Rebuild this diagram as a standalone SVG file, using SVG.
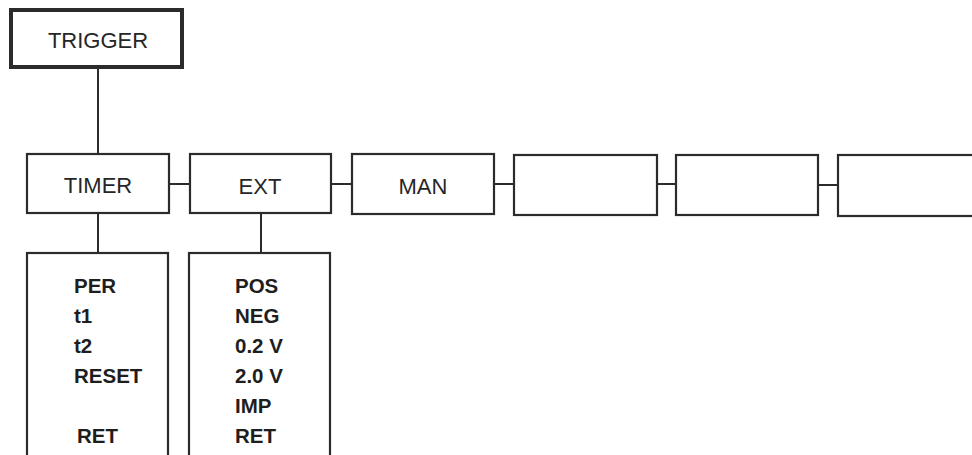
<svg xmlns="http://www.w3.org/2000/svg" width="972" height="455" viewBox="0 0 972 455">
  <style>
    .box { fill: #ffffff; stroke: #2b2b2b; stroke-width: 2.2; }
    .thick { stroke-width: 4; }
    .conn { stroke: #2b2b2b; stroke-width: 2; fill: none; }
    .lbl { font-family: "Liberation Sans", Arial, sans-serif; font-size: 22px; fill: #262626; text-anchor: middle; }
    .item { font-family: "Liberation Sans", Arial, sans-serif; font-size: 20.5px; font-weight: bold; fill: #1e1e1e; }
  </style>
  <rect width="972" height="455" fill="#ffffff"/>

  <g id="connectors">
    <line class="conn" x1="98" y1="67" x2="98" y2="154"/>
    <line class="conn" x1="169" y1="184" x2="190" y2="184"/>
    <line class="conn" x1="331" y1="184" x2="352" y2="184"/>
    <line class="conn" x1="494" y1="184" x2="514" y2="184"/>
    <line class="conn" x1="657" y1="184" x2="676" y2="184"/>
    <line class="conn" x1="818" y1="185" x2="838" y2="185"/>
    <line class="conn" x1="98" y1="213" x2="98" y2="253"/>
    <line class="conn" x1="261" y1="213" x2="261" y2="253"/>
  </g>

  <g id="trigger">
    <rect class="box thick" x="11" y="10" width="171" height="57"/>
    <text class="lbl" x="98" y="48">TRIGGER</text>
  </g>

  <g id="timer">
    <rect class="box" x="27" y="154" width="142" height="59"/>
    <text class="lbl" x="98" y="193">TIMER</text>
  </g>

  <g id="ext">
    <rect class="box" x="190" y="154" width="141" height="59"/>
    <text class="lbl" x="260" y="194">EXT</text>
  </g>

  <g id="man">
    <rect class="box" x="352" y="154" width="142" height="60"/>
    <text class="lbl" x="423" y="194">MAN</text>
  </g>

  <g id="blank1">
    <rect class="box" x="514" y="155" width="143" height="60"/>
  </g>

  <g id="blank2">
    <rect class="box" x="676" y="155" width="142" height="60"/>
  </g>

  <g id="blank3">
    <rect class="box" x="838" y="155" width="160" height="61"/>
  </g>

  <g id="timer-menu">
    <rect class="box" x="27" y="253" width="141" height="220"/>
    <text class="item" x="74" y="293">PER</text>
    <text class="item" x="74" y="323">t1</text>
    <text class="item" x="74" y="353">t2</text>
    <text class="item" x="74" y="383">RESET</text>
    <text class="item" x="77" y="443">RET</text>
  </g>

  <g id="ext-menu">
    <rect class="box" x="189" y="253" width="141" height="220"/>
    <text class="item" x="235" y="293">POS</text>
    <text class="item" x="235" y="323">NEG</text>
    <text class="item" x="235" y="353">0.2 V</text>
    <text class="item" x="235" y="383">2.0 V</text>
    <text class="item" x="235" y="413">IMP</text>
    <text class="item" x="235" y="443">RET</text>
  </g>
</svg>
